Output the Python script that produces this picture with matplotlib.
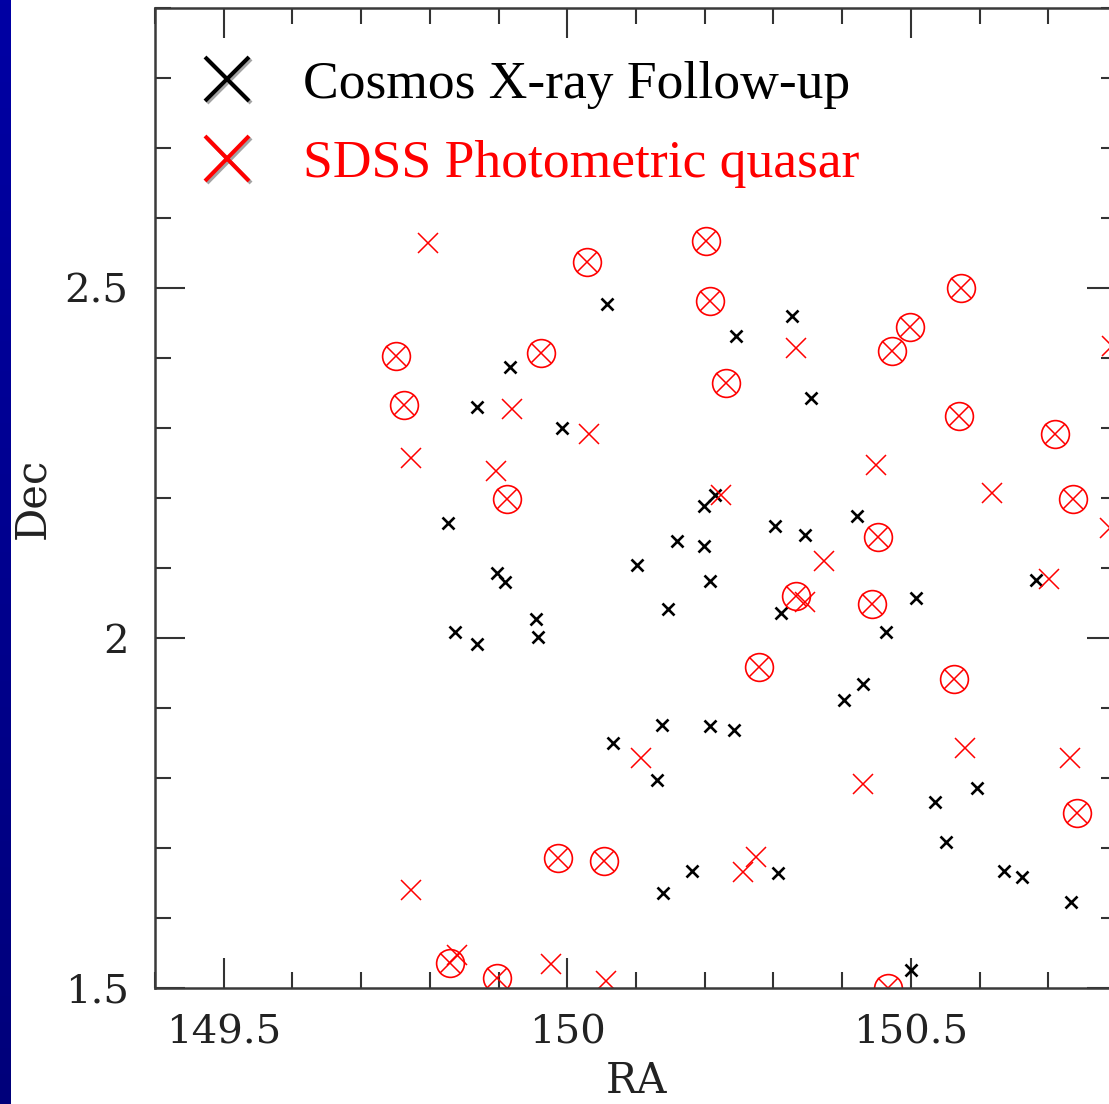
import matplotlib.pyplot as plt
import matplotlib.patheffects as pe
import numpy as np
from matplotlib.colors import LinearSegmentedColormap
from matplotlib.lines import Line2D
from matplotlib.ticker import MultipleLocator

# COSMOS X-ray follow-up targets (RA, Dec in degrees)
xray_ra = [150.058, 150.327, 150.245, 150.355, 149.917, 149.868, 149.993, 149.827,
           150.199, 150.215, 150.303, 150.346, 150.422, 150.159, 150.199, 150.102,
           149.897, 149.910, 150.208, 150.146, 149.955, 149.957, 149.837, 149.868,
           150.311, 150.464, 150.508, 150.682, 150.431, 150.402, 150.138, 150.208,
           150.243, 150.067, 150.131, 150.535, 150.596, 150.551, 150.636, 150.662,
           150.733, 150.140, 150.182, 150.307, 150.500]
xray_dec = [2.478, 2.461, 2.432, 2.344, 2.387, 2.331, 2.301, 2.164,
            2.189, 2.205, 2.161, 2.147, 2.175, 2.139, 2.132, 2.105,
            2.094, 2.081, 2.082, 2.042, 2.028, 2.002, 2.009, 1.992,
            2.036, 2.009, 2.058, 2.084, 1.935, 1.912, 1.876, 1.875,
            1.869, 1.851, 1.798, 1.766, 1.786, 1.709, 1.668, 1.659,
            1.623, 1.636, 1.668, 1.665, 1.526]

# SDSS photometric quasars
qso_ra = [149.797, 149.772, 149.919, 149.896, 150.031, 150.333, 150.793, 150.224,
          150.450, 150.618, 150.374, 150.346, 150.701, 150.790, 150.108, 150.431,
          150.579, 150.732, 149.773, 150.256, 150.274, 149.839, 149.977, 150.057]
qso_dec = [2.565, 2.258, 2.328, 2.239, 2.292, 2.415, 2.417, 2.205,
           2.247, 2.207, 2.111, 2.052, 2.085, 2.158, 1.829, 1.792,
           1.843, 1.829, 1.641, 1.666, 1.688, 1.548, 1.535, 1.510]

# photometric quasars that are also circled
circ_ra = [149.750, 149.763, 149.912, 149.962, 150.029, 150.202, 150.208, 150.231,
           150.473, 150.499, 150.573, 150.570, 150.710, 150.736, 150.452, 150.333,
           150.444, 150.279, 150.563, 150.742, 149.986, 150.053, 149.830, 149.898,
           150.467]
circ_dec = [2.404, 2.334, 2.199, 2.408, 2.537, 2.567, 2.482, 2.365,
            2.411, 2.445, 2.500, 2.317, 2.292, 2.199, 2.145, 2.061,
            2.049, 1.959, 1.942, 1.751, 1.686, 1.682, 1.536, 1.515,
            1.500]

fig = plt.figure(figsize=(11.09, 11.04), dpi=100)

# slide background strip on the left edge
strip = fig.add_axes([0, 0, 11 / 1109, 1])
grad = np.linspace(0, 1, 256).reshape(-1, 1)
strip.imshow(grad, aspect='auto',
             cmap=LinearSegmentedColormap.from_list('strip', ['#0000a4', '#00007a']))
strip.set_axis_off()

ax = fig.add_axes([155 / 1109, 1 - 988.3 / 1104, 962 / 1109, 980 / 1104])
ax.set_xlim(149.4, 150.8)
ax.set_ylim(1.5, 2.9)

ax.plot(xray_ra, xray_dec, 'x', color='black', ms=8.6, mew=1.9, ls='none')
ax.plot(qso_ra, qso_dec, 'x', color='red', ms=14.5, mew=1.1, ls='none')
ax.plot(circ_ra, circ_dec, 'o', color='red', mfc='none', ms=20, mew=1.2, ls='none')
ax.plot(circ_ra, circ_dec, 'x', color='red', ms=14, mew=1.1, ls='none')

tick_font = {'family': 'DejaVu Serif', 'size': 29}
label_font = {'family': 'DejaVu Serif', 'size': 30}
ax.set_xticks([149.5, 150, 150.5])
ax.set_xticklabels(['149.5', '150', '150.5'], fontdict=tick_font)
ax.set_yticks([1.5, 2, 2.5])
ax.set_yticklabels(['1.5', '2', '2.5'], fontdict=tick_font)
ax.xaxis.set_minor_locator(MultipleLocator(0.1))
ax.yaxis.set_minor_locator(MultipleLocator(0.1))
ax.tick_params(which='both', direction='in', top=True, right=True, color='#333333',
               labelcolor='#222222')
ax.tick_params(which='major', length=21.5, width=1.5, pad=19)
ax.tick_params(which='minor', length=11.5, width=1.5)
for sp in ax.spines.values():
    sp.set_color('#3a3a3a')
    sp.set_linewidth(1.8)

ax.set_xlabel('RA', fontdict=label_font, color='#222222', labelpad=6)
ax.set_ylabel('Dec', fontdict=label_font, color='#222222', labelpad=8)

handles = [Line2D([], [], marker='x', color='black', ls='none', ms=32, mew=2.9),
           Line2D([], [], marker='x', color='red', ls='none', ms=32, mew=2.9)]
leg = ax.legend(handles, ['Cosmos X-ray Follow-up', 'SDSS Photometric quasar'],
                loc='upper left', bbox_to_anchor=(0.047, 0.947), frameon=False,
                prop={'family': 'Liberation Serif', 'size': 38.5},
                labelcolor=['black', 'red'], handlelength=1.0, handletextpad=0.92,
                borderpad=0, borderaxespad=0, labelspacing=0.58)
for h in leg.legend_handles:
    h.set_path_effects([pe.SimpleLineShadow(offset=(1.5, -1.5), shadow_color='0.55', alpha=0.8),
                        pe.Normal()])

fig.savefig('out.png', dpi=100)
